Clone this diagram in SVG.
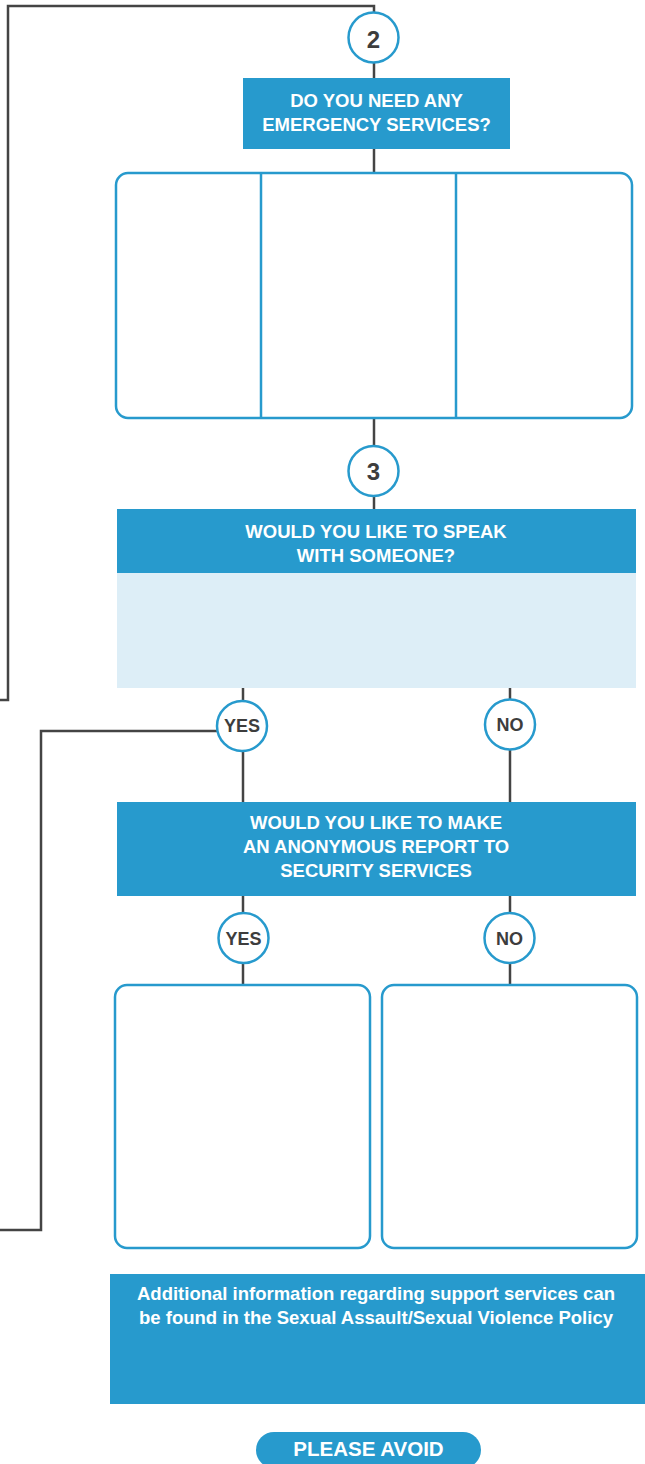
<svg xmlns="http://www.w3.org/2000/svg" width="645" height="1464" viewBox="0 0 645 1464">
<style>
.conn{fill:none;stroke:#444;stroke-width:2.5}
.q{fill:#279acd}
.lt{fill:#ddeef7}
.panel{fill:#fff;stroke:#279acd;stroke-width:2.5}
.circ{fill:#fff;stroke:#279acd;stroke-width:2.5}
.wt{font-family:"Liberation Sans",Arial,sans-serif;font-weight:bold;font-size:18.5px;fill:#fff;text-anchor:middle}
.dk{font-family:"Liberation Sans",Arial,sans-serif;font-weight:bold;font-size:18px;fill:#3d3d3d;text-anchor:middle}
.num{font-size:24px}
</style>
<rect width="645" height="1464" fill="#fff"/>
<g id="connectors">
<polyline class="conn" points="0,700 8,700 8,6 374,6 374,12"/>
<line class="conn" x1="374" y1="63" x2="374" y2="78"/>
<line class="conn" x1="374" y1="149" x2="374" y2="173"/>
<line class="conn" x1="374" y1="418" x2="374" y2="446"/>
<line class="conn" x1="374" y1="496" x2="374" y2="509"/>
<line class="conn" x1="243" y1="688" x2="243" y2="701"/>
<line class="conn" x1="243" y1="751" x2="243" y2="802"/>
<polyline class="conn" points="217,731 41,731 41,1230 0,1230"/>
<line class="conn" x1="510" y1="688" x2="510" y2="699"/>
<line class="conn" x1="510" y1="749" x2="510" y2="802"/>
<line class="conn" x1="243" y1="896" x2="243" y2="913"/>
<line class="conn" x1="243" y1="963" x2="243" y2="985"/>
<line class="conn" x1="510" y1="896" x2="510" y2="913"/>
<line class="conn" x1="510" y1="963" x2="510" y2="985"/>
</g>
<g id="step2">
<circle class="circ" cx="373.5" cy="37.5" r="25"/>
<text class="dk num" x="373.5" y="48">2</text>
</g>
<g id="q-emergency">
<rect class="q" x="243" y="78" width="267" height="71"/>
<text class="wt" x="376.5" y="107">DO YOU NEED ANY</text>
<text class="wt" x="376.5" y="131">EMERGENCY SERVICES?</text>
</g>
<g id="emergency-panel">
<rect class="panel" x="116" y="173" width="516" height="245" rx="12"/>
<line class="panel" x1="261" y1="173" x2="261" y2="418"/>
<line class="panel" x1="456" y1="173" x2="456" y2="418"/>
</g>
<g id="step3">
<circle class="circ" cx="373.5" cy="471" r="25"/>
<text class="dk num" x="373.5" y="480">3</text>
</g>
<g id="q-speak">
<rect class="q" x="117" y="509" width="519" height="64"/>
<rect class="lt" x="117" y="573" width="519" height="115"/>
<text class="wt" x="376" y="538">WOULD YOU LIKE TO SPEAK</text>
<text class="wt" x="376" y="562">WITH SOMEONE?</text>
</g>
<g id="yes1">
<circle class="circ" cx="242" cy="726" r="25"/>
<text class="dk" x="242" y="732">YES</text>
</g>
<g id="no1">
<circle class="circ" cx="510" cy="724.5" r="25"/>
<text class="dk" x="510" y="731">NO</text>
</g>
<g id="q-report">
<rect class="q" x="117" y="802" width="519" height="94"/>
<text class="wt" x="376" y="829">WOULD YOU LIKE TO MAKE</text>
<text class="wt" x="376" y="853">AN ANONYMOUS REPORT TO</text>
<text class="wt" x="376" y="877">SECURITY SERVICES</text>
</g>
<g id="yes2">
<circle class="circ" cx="243.5" cy="938" r="25"/>
<text class="dk" x="243.5" y="945">YES</text>
</g>
<g id="no2">
<circle class="circ" cx="509.5" cy="938" r="25"/>
<text class="dk" x="509.5" y="945">NO</text>
</g>
<g id="box-yes">
<rect class="panel" x="115" y="985" width="255" height="263" rx="12"/>
</g>
<g id="box-no">
<rect class="panel" x="382" y="985" width="255" height="263" rx="12"/>
</g>
<g id="info">
<rect class="q" x="110" y="1274" width="535" height="130"/>
<text class="wt" x="376" y="1300">Additional information regarding support services can</text>
<text class="wt" x="376" y="1324">be found in the Sexual Assault/Sexual Violence Policy</text>
</g>
<g id="please-avoid">
<rect class="q" x="256" y="1432" width="225" height="36" rx="18"/>
<text class="wt" x="368.5" y="1456" style="font-size:20.5px">PLEASE AVOID</text>
</g>
</svg>
